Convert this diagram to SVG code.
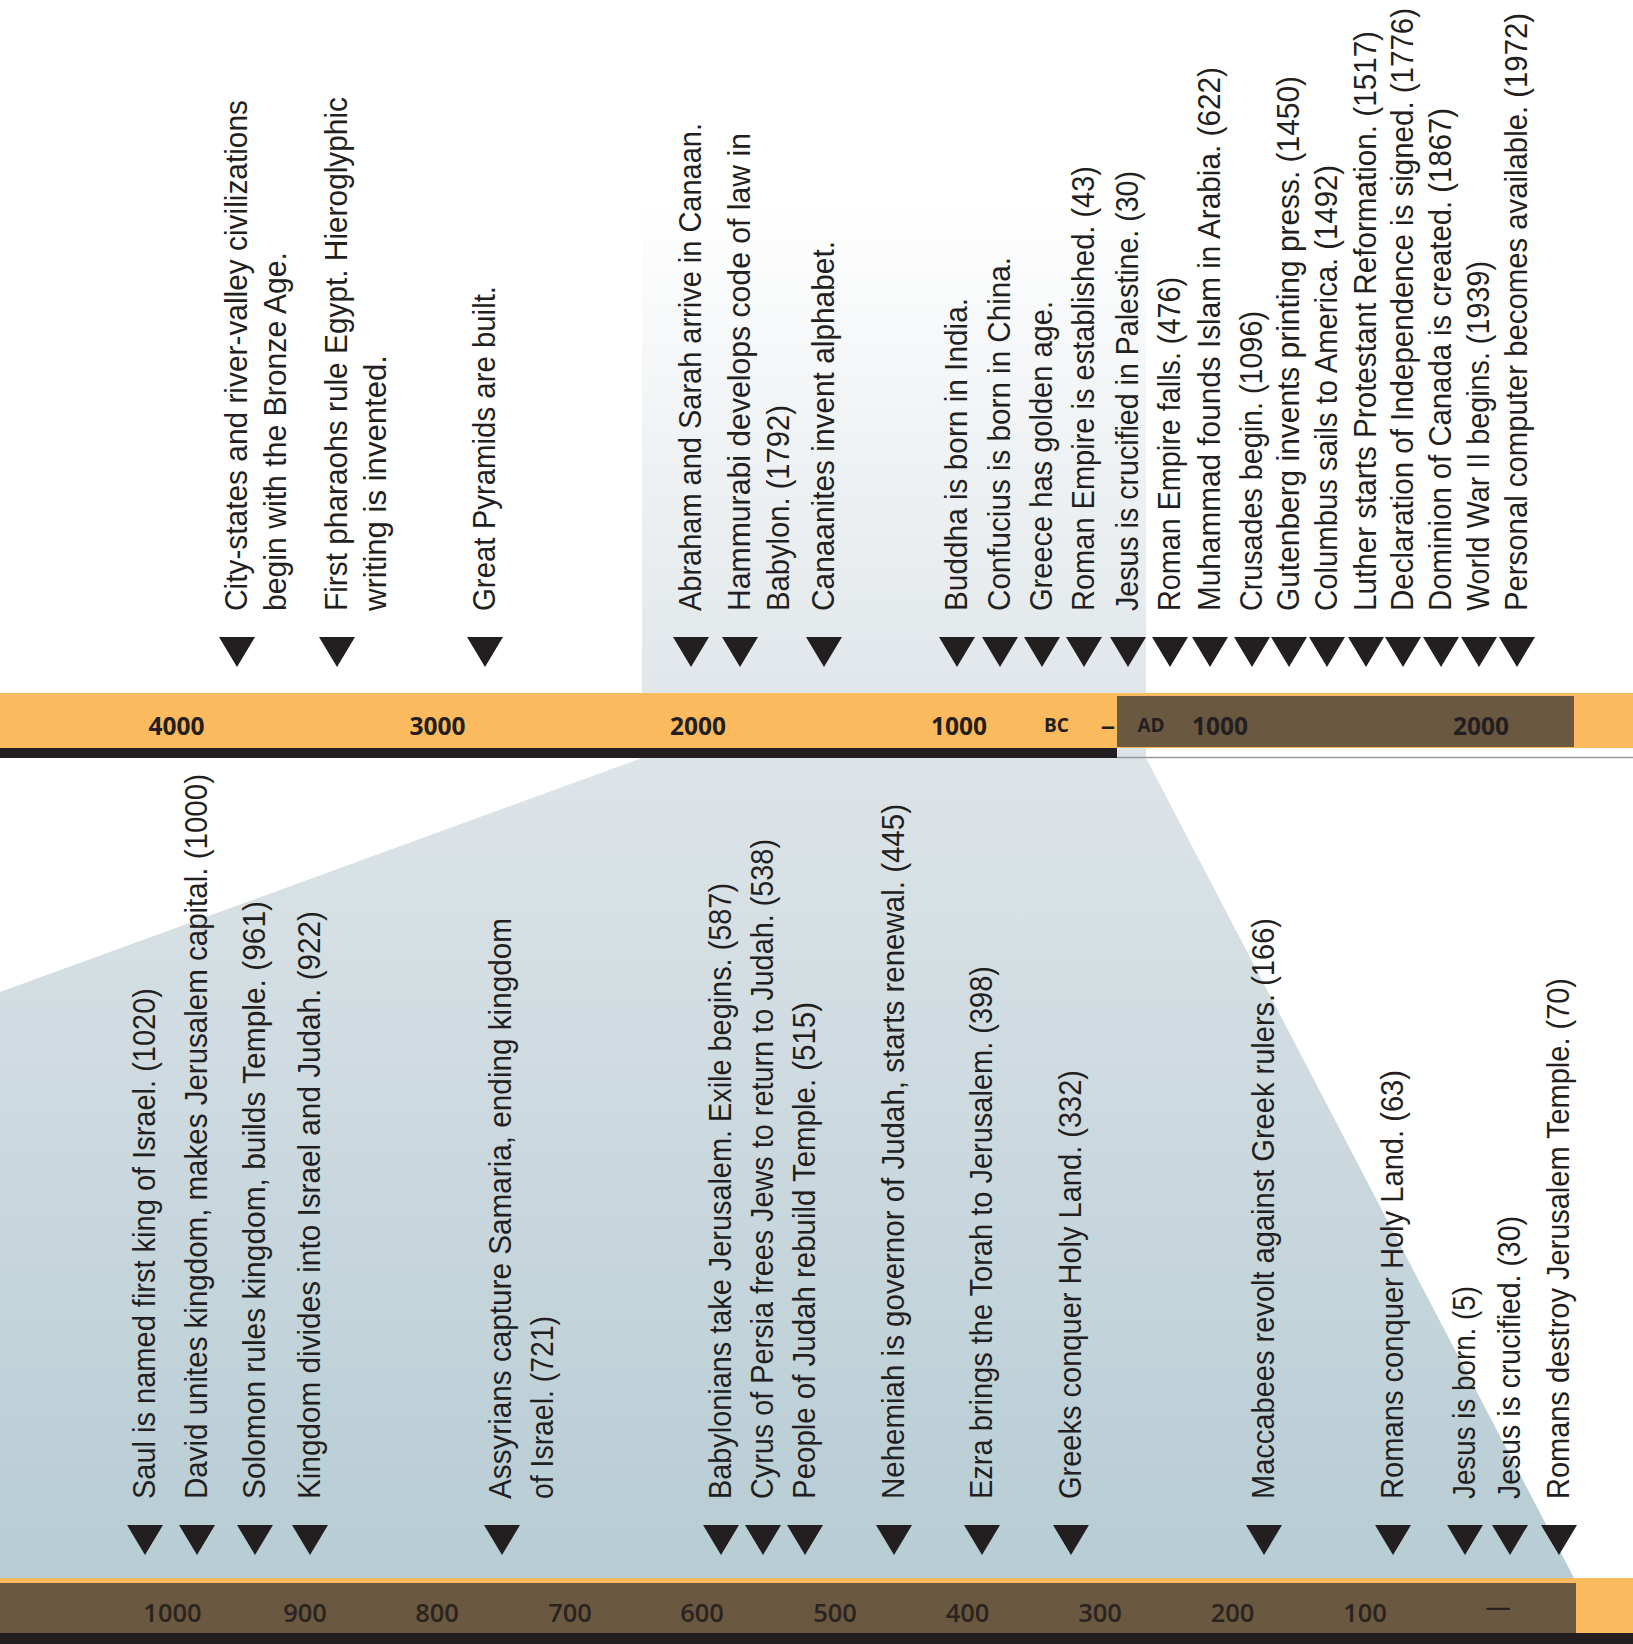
<svg xmlns="http://www.w3.org/2000/svg" xmlns:xlink="http://www.w3.org/1999/xlink" width="1633" height="1644" viewBox="0 0 1633 1644">
<defs>
<linearGradient id="shade" gradientUnits="userSpaceOnUse" x1="0" y1="200" x2="0" y2="1578">
<stop offset="0" stop-color="#ffffff"/>
<stop offset="0.36" stop-color="#e0e6ea"/>
<stop offset="1" stop-color="#b7ccd4"/>
</linearGradient>
<path id="tri" d="M-18,0 L18,0 L0,30 Z" fill="#231f20"/>
<style>
.ev { font-family: "Liberation Sans", Arial, sans-serif; font-size: 30.5px; fill: #231f20; }
.ax { font-family: "Open Sans", "Liberation Sans", sans-serif; font-weight: 700; font-size: 24.5px; fill: #231f20; text-anchor: middle; }
.dash { font-family: "Liberation Sans", Arial, sans-serif; font-weight: 700; font-size: 25px; fill: #231f20; text-anchor: middle; }
.era { font-family: "Open Sans", "Liberation Sans", sans-serif; font-weight: 700; font-size: 19px; fill: #231f20; text-anchor: middle; }
.axb { font-family: "Open Sans", "Liberation Sans", sans-serif; font-weight: 600; font-size: 25.5px; fill: #2a2420; text-anchor: middle; }
</style>
</defs>
<rect x="0" y="0" width="1633" height="1644" fill="#ffffff"/>
<polygon id="zoom-region" points="642,200 1146,200 1146,758 1574,1578 0,1578 0,992 642,758" fill="url(#shade)"/>

<g id="top-axis">
<rect x="0" y="693" width="1633" height="55" fill="#fcba5e"/>
<rect x="1117" y="696" width="457" height="51" fill="#6b5840"/>
<rect x="0" y="748" width="1117" height="10" fill="#231f20"/>
<line x1="1117" y1="757.5" x2="1633" y2="757.5" stroke="#999999" stroke-width="1.5"/>
<text class="ax" x="176.5" y="735">4000</text>
<text class="ax" x="437.5" y="735">3000</text>
<text class="ax" x="698" y="735">2000</text>
<text class="ax" x="959" y="735">1000</text>
<text class="era" x="1056.5" y="732">BC</text>
<text class="dash" x="1108" y="735">–</text>
<text class="era" x="1151" y="732">AD</text>
<text class="ax" x="1220" y="735">1000</text>
<text class="ax" x="1481" y="735">2000</text>
</g>

<g id="bottom-axis">
<rect x="0" y="1578" width="1633" height="55" fill="#fcba5e"/>
<rect x="0" y="1583" width="1576" height="50" fill="#6b5840"/>
<rect x="0" y="1633" width="1633" height="11" fill="#231f20"/>
<text class="axb" x="172.5" y="1622">1000</text>
<text class="axb" x="305" y="1622">900</text>
<text class="axb" x="437" y="1622">800</text>
<text class="axb" x="570" y="1622">700</text>
<text class="axb" x="702" y="1622">600</text>
<text class="axb" x="835" y="1622">500</text>
<text class="axb" x="967.5" y="1622">400</text>
<text class="axb" x="1100" y="1622">300</text>
<text class="axb" x="1232.5" y="1622">200</text>
<text class="axb" x="1365" y="1622">100</text>
<text class="axb" x="1498" y="1616">—</text>
</g>

<g id="connectors"></g>

<g id="top-events">
<g id="t1"><use xlink:href="#tri" x="237" y="637"/>
<text class="ev" transform="translate(247,611) rotate(-90)" textLength="511" lengthAdjust="spacingAndGlyphs">City-states and river-valley civilizations</text>
<text class="ev" transform="translate(286,611) rotate(-90)" textLength="359" lengthAdjust="spacingAndGlyphs">begin with the Bronze Age.</text></g>
<g id="t2"><use xlink:href="#tri" x="337" y="637"/>
<text class="ev" transform="translate(347,611) rotate(-90)" textLength="514" lengthAdjust="spacingAndGlyphs">First pharaohs rule Egypt. Hieroglyphic</text>
<text class="ev" transform="translate(386,611) rotate(-90)" textLength="256" lengthAdjust="spacingAndGlyphs">writing is invented.</text></g>
<g id="t3"><use xlink:href="#tri" x="485" y="637"/>
<text class="ev" transform="translate(495,611) rotate(-90)" textLength="325" lengthAdjust="spacingAndGlyphs">Great Pyramids are built.</text></g>
<g id="t4"><use xlink:href="#tri" x="691" y="637"/>
<text class="ev" transform="translate(701,611) rotate(-90)" textLength="488" lengthAdjust="spacingAndGlyphs">Abraham and Sarah arrive in Canaan.</text></g>
<g id="t5"><use xlink:href="#tri" x="740" y="637"/>
<text class="ev" transform="translate(750,611) rotate(-90)" textLength="478" lengthAdjust="spacingAndGlyphs">Hammurabi develops code of law in</text>
<text class="ev" transform="translate(789,611) rotate(-90)" textLength="206" lengthAdjust="spacingAndGlyphs">Babylon. (1792)</text></g>
<g id="t6"><use xlink:href="#tri" x="824" y="637"/>
<text class="ev" transform="translate(834,611) rotate(-90)" textLength="370" lengthAdjust="spacingAndGlyphs">Canaanites invent alphabet.</text></g>
<g id="t7"><use xlink:href="#tri" x="957" y="637"/>
<text class="ev" transform="translate(967,611) rotate(-90)" textLength="313" lengthAdjust="spacingAndGlyphs">Buddha is born in India.</text></g>
<g id="t8"><use xlink:href="#tri" x="1000" y="637"/>
<text class="ev" transform="translate(1010,611) rotate(-90)" textLength="354" lengthAdjust="spacingAndGlyphs">Confucius is born in China.</text></g>
<g id="t9"><use xlink:href="#tri" x="1042" y="637"/>
<text class="ev" transform="translate(1052,611) rotate(-90)" textLength="310" lengthAdjust="spacingAndGlyphs">Greece has golden age.</text></g>
<g id="t10"><use xlink:href="#tri" x="1084" y="637"/>
<text class="ev" transform="translate(1094,611) rotate(-90)" textLength="445" lengthAdjust="spacingAndGlyphs">Roman Empire is established. (43)</text></g>
<g id="t11"><use xlink:href="#tri" x="1128" y="637"/>
<text class="ev" transform="translate(1138,611) rotate(-90)" textLength="440" lengthAdjust="spacingAndGlyphs">Jesus is crucified in Palestine. (30)</text></g>
<g id="t12"><use xlink:href="#tri" x="1170" y="637"/>
<text class="ev" transform="translate(1180,611) rotate(-90)" textLength="334" lengthAdjust="spacingAndGlyphs">Roman Empire falls. (476)</text></g>
<g id="t13"><use xlink:href="#tri" x="1210" y="637"/>
<text class="ev" transform="translate(1220,611) rotate(-90)" textLength="544" lengthAdjust="spacingAndGlyphs">Muhammad founds Islam in Arabia. (622)</text></g>
<g id="t14"><use xlink:href="#tri" x="1252" y="637"/>
<text class="ev" transform="translate(1262,611) rotate(-90)" textLength="300" lengthAdjust="spacingAndGlyphs">Crusades begin. (1096)</text></g>
<g id="t15"><use xlink:href="#tri" x="1289" y="637"/>
<text class="ev" transform="translate(1299,611) rotate(-90)" textLength="535" lengthAdjust="spacingAndGlyphs">Gutenberg invents printing press. (1450)</text></g>
<g id="t16"><use xlink:href="#tri" x="1327" y="637"/>
<text class="ev" transform="translate(1337,611) rotate(-90)" textLength="446" lengthAdjust="spacingAndGlyphs">Columbus sails to America. (1492)</text></g>
<g id="t17"><use xlink:href="#tri" x="1366" y="637"/>
<text class="ev" transform="translate(1376,611) rotate(-90)" textLength="580" lengthAdjust="spacingAndGlyphs">Luther starts Protestant Reformation. (1517)</text></g>
<g id="t18"><use xlink:href="#tri" x="1403" y="637"/>
<text class="ev" transform="translate(1413,611) rotate(-90)" textLength="603" lengthAdjust="spacingAndGlyphs">Declaration of Independence is signed. (1776)</text></g>
<g id="t19"><use xlink:href="#tri" x="1441" y="637"/>
<text class="ev" transform="translate(1451,611) rotate(-90)" textLength="503" lengthAdjust="spacingAndGlyphs">Dominion of Canada is created. (1867)</text></g>
<g id="t20"><use xlink:href="#tri" x="1479" y="637"/>
<text class="ev" transform="translate(1489,611) rotate(-90)" textLength="350" lengthAdjust="spacingAndGlyphs">World War II begins. (1939)</text></g>
<g id="t21"><use xlink:href="#tri" x="1517" y="637"/>
<text class="ev" transform="translate(1527,611) rotate(-90)" textLength="598" lengthAdjust="spacingAndGlyphs">Personal computer becomes available. (1972)</text></g>
</g>

<g id="bottom-events">
<g id="b1"><use xlink:href="#tri" x="145" y="1525"/>
<text class="ev" transform="translate(155,1499) rotate(-90)" textLength="511" lengthAdjust="spacingAndGlyphs">Saul is named first king of Israel. (1020)</text></g>
<g id="b2"><use xlink:href="#tri" x="197" y="1525"/>
<text class="ev" transform="translate(207,1499) rotate(-90)" textLength="725" lengthAdjust="spacingAndGlyphs">David unites kingdom, makes Jerusalem capital. (1000)</text></g>
<g id="b3"><use xlink:href="#tri" x="255" y="1525"/>
<text class="ev" transform="translate(265,1499) rotate(-90)" textLength="598" lengthAdjust="spacingAndGlyphs">Solomon rules kingdom, builds Temple. (961)</text></g>
<g id="b4"><use xlink:href="#tri" x="310" y="1525"/>
<text class="ev" transform="translate(320,1499) rotate(-90)" textLength="588" lengthAdjust="spacingAndGlyphs">Kingdom divides into Israel and Judah. (922)</text></g>
<g id="b5"><use xlink:href="#tri" x="502" y="1525"/>
<text class="ev" transform="translate(511,1499) rotate(-90)" textLength="581" lengthAdjust="spacingAndGlyphs">Assyrians capture Samaria, ending kingdom</text>
<text class="ev" transform="translate(553,1499) rotate(-90)" textLength="183" lengthAdjust="spacingAndGlyphs">of Israel. (721)</text></g>
<g id="b6"><use xlink:href="#tri" x="721" y="1525"/>
<text class="ev" transform="translate(731,1499) rotate(-90)" textLength="616" lengthAdjust="spacingAndGlyphs">Babylonians take Jerusalem. Exile begins. (587)</text></g>
<g id="b7"><use xlink:href="#tri" x="763" y="1525"/>
<text class="ev" transform="translate(773,1499) rotate(-90)" textLength="660" lengthAdjust="spacingAndGlyphs">Cyrus of Persia frees Jews to return to Judah. (538)</text></g>
<g id="b8"><use xlink:href="#tri" x="805" y="1525"/>
<text class="ev" transform="translate(815,1499) rotate(-90)" textLength="497" lengthAdjust="spacingAndGlyphs">People of Judah rebuild Temple. (515)</text></g>
<g id="b9"><use xlink:href="#tri" x="894" y="1525"/>
<text class="ev" transform="translate(904,1499) rotate(-90)" textLength="695" lengthAdjust="spacingAndGlyphs">Nehemiah is governor of Judah, starts renewal. (445)</text></g>
<g id="b10"><use xlink:href="#tri" x="982" y="1525"/>
<text class="ev" transform="translate(992,1499) rotate(-90)" textLength="533" lengthAdjust="spacingAndGlyphs">Ezra brings the Torah to Jerusalem. (398)</text></g>
<g id="b11"><use xlink:href="#tri" x="1071" y="1525"/>
<text class="ev" transform="translate(1081,1499) rotate(-90)" textLength="429" lengthAdjust="spacingAndGlyphs">Greeks conquer Holy Land. (332)</text></g>
<g id="b12"><use xlink:href="#tri" x="1264" y="1525"/>
<text class="ev" transform="translate(1274,1499) rotate(-90)" textLength="581" lengthAdjust="spacingAndGlyphs">Maccabees revolt against Greek rulers. (166)</text></g>
<g id="b13"><use xlink:href="#tri" x="1393" y="1525"/>
<text class="ev" transform="translate(1403,1499) rotate(-90)" textLength="429" lengthAdjust="spacingAndGlyphs">Romans conquer Holy Land. (63)</text></g>
<g id="b14"><use xlink:href="#tri" x="1465" y="1525"/>
<text class="ev" transform="translate(1475,1499) rotate(-90)" textLength="213" lengthAdjust="spacingAndGlyphs">Jesus is born. (5)</text></g>
<g id="b15"><use xlink:href="#tri" x="1510" y="1525"/>
<text class="ev" transform="translate(1520,1499) rotate(-90)" textLength="283" lengthAdjust="spacingAndGlyphs">Jesus is crucified. (30)</text></g>
<g id="b16"><use xlink:href="#tri" x="1559" y="1525"/>
<text class="ev" transform="translate(1569,1499) rotate(-90)" textLength="521" lengthAdjust="spacingAndGlyphs">Romans destroy Jerusalem Temple. (70)</text></g>
</g>
</svg>
